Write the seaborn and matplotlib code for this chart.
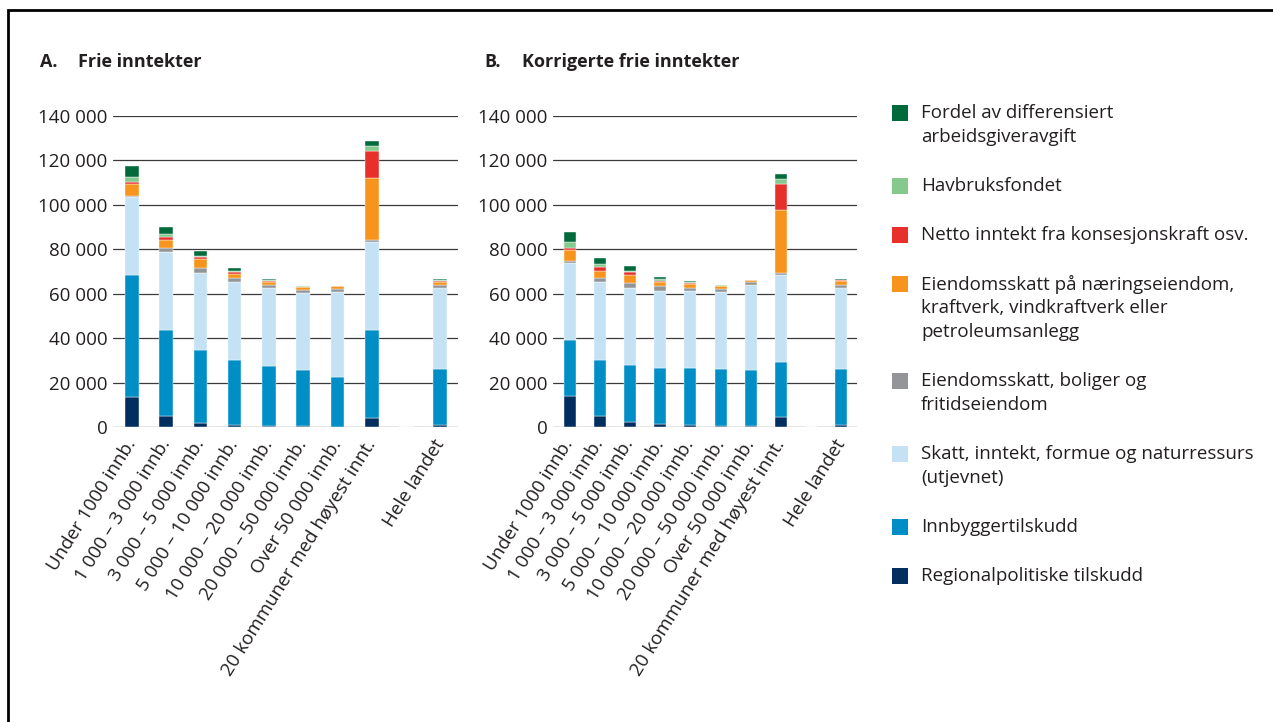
import matplotlib
matplotlib.use("Agg")
import matplotlib.pyplot as plt
from matplotlib.patches import Rectangle
from matplotlib.ticker import FuncFormatter
import seaborn as sns
import pandas as pd

sns.set_theme(style="white")
plt.rcParams["font.family"] = ["Open Sans", "DejaVu Sans"]

# kategorier og posisjoner (tomt felt før "Hele landet")
categories = [
    "Under 1000 innb.",
    "1 000 – 3 000 innb.",
    "3 000 – 5 000 innb.",
    "5 000 – 10 000 innb.",
    "10 000 – 20 000 innb.",
    "20 000 – 50 000 innb.",
    "Over 50 000 innb.",
    "20 kommuner med høyest innt.",
    "Hele landet",
]
positions = [0, 1, 2, 3, 4, 5, 6, 7, 9]

series = [
    "Fordel av differensiert\narbeidsgiveravgift",
    "Havbruksfondet",
    "Netto inntekt fra konsesjonskraft osv.",
    "Eiendomsskatt på næringseiendom,\nkraftverk, vindkraftverk eller\npetroleumsanlegg",
    "Eiendomsskatt, boliger og\nfritidseiendom",
    "Skatt, inntekt, formue og naturressurs\n(utjevnet)",
    "Innbyggertilskudd",
    "Regionalpolitiske tilskudd",
]
colors = ["#006a3b", "#86c98e", "#e8302a", "#f7941d", "#939598",
          "#c4e2f4", "#008ec6", "#002f5f"]

# A. Frie inntekter (kr per innbygger)
fordel_a = [4800, 3000, 2100, 1350, 600, 150, 50, 2250, 300]
havbruk_a = [2250, 1350, 600, 450, 300, 300, 100, 2100, 450]
konsesjon_a = [750, 1500, 1050, 600, 600, 150, 50, 12150, 450]
naering_a = [5400, 3450, 3750, 1800, 1500, 1200, 1100, 28050, 1500]
bolig_a = [600, 1800, 2400, 2100, 1200, 1200, 1350, 900, 1200]
skatt_a = [35250, 34950, 34800, 35100, 35100, 34800, 38250, 39600, 36250]
innbygger_a = [54750, 38850, 32550, 29100, 27000, 25350, 22500, 39300, 25400]
regional_a = [13500, 4950, 1950, 900, 450, 300, 150, 4200, 900]

# B. Korrigerte frie inntekter
fordel_b = [4500, 3000, 2100, 1050, 600, 150, 50, 2400, 300]
havbruk_b = [2550, 1350, 450, 600, 300, 300, 50, 2100, 300]
konsesjon_b = [750, 1650, 1500, 450, 450, 150, 50, 12000, 450]
naering_b = [5100, 3150, 3600, 1950, 1800, 1200, 900, 28050, 1800]
bolig_b = [900, 1800, 2100, 2100, 1200, 1350, 1200, 900, 1200]
skatt_b = [34800, 34950, 34650, 34950, 34800, 34800, 38250, 39150, 36300]
innbygger_b = [24900, 25200, 25650, 25200, 25650, 25650, 25350, 24900, 25500]
regional_b = [14100, 5100, 2250, 1200, 900, 300, 300, 4500, 750]

values_a = [fordel_a, havbruk_a, konsesjon_a, naering_a, bolig_a,
            skatt_a, innbygger_a, regional_a]
values_b = [fordel_b, havbruk_b, konsesjon_b, naering_b, bolig_b,
            skatt_b, innbygger_b, regional_b]


def long_frame(values):
    rows = []
    for name, vals in zip(series, values):
        for pos, v in zip(positions, vals):
            rows.append({"pos": pos, "serie": name, "verdi": v})
    return pd.DataFrame(rows)


fig = plt.figure(figsize=(12.73, 7.22), dpi=100)
W, H = 1273, 722
TXT = "#231f20"


def px_axes(x0, x1, y0, y1):
    return fig.add_axes([x0 / W, 1 - y1 / H, (x1 - x0) / W, (y1 - y0) / H])


ax_a = px_axes(113, 458, 116, 427)
ax_b = px_axes(553, 857, 116, 427)

fmt = FuncFormatter(lambda v, p: f"{v:,.0f}".replace(",", " "))

for ax, values in [(ax_a, values_a), (ax_b, values_b)]:
    sns.histplot(
        data=long_frame(values), x="pos", weights="verdi", hue="serie",
        hue_order=series, palette=dict(zip(series, colors)),
        multiple="stack", discrete=True, shrink=0.4, alpha=1,
        edgecolor="white", linewidth=0.3, legend=False, ax=ax,
    )
    ax.set_ylim(0, 140000)
    ax.set_xlim(-0.55, 9.52)
    ax.set_yticks(range(0, 140001, 20000))
    ax.yaxis.set_major_formatter(fmt)
    ax.yaxis.grid(True, color="#3a3a3a", linewidth=0.9)
    ax.set_axisbelow(True)
    for s in ax.spines.values():
        s.set_visible(False)
    ax.set_xticks(positions)
    ax.set_xticklabels(categories, rotation=58, ha="right", va="center",
                       rotation_mode="anchor", fontsize=13.5, color=TXT)
    ax.tick_params(axis="y", length=0, pad=4, labelsize=13.5, labelcolor=TXT)
    ax.tick_params(axis="x", length=0, pad=10)
    ax.set_xlabel("")
    ax.set_ylabel("")

# titler
for x, s in [(40, "A."), (78, "Frie inntekter"), (484, "B."),
             (522, "Korrigerte frie inntekter")]:
    fig.text(x / W, 1 - 62 / H, s, fontsize=13, fontweight="bold",
             va="center", color=TXT)

# legende
y = 113
for name, col in zip(series, colors):
    fig.patches.append(Rectangle((892 / W, 1 - (y + 8) / H), 16 / W, 16 / H,
                                 transform=fig.transFigure, facecolor=col,
                                 edgecolor="none"))
    lines = name.split("\n")
    for i, line in enumerate(lines):
        fig.text(921 / W, 1 - (y + 24 * i) / H, line, fontsize=13.5,
                 va="center", color=TXT)
    y += 24 * (len(lines) - 1) + 49

# ramme
fig.patches.append(Rectangle((8 / W, -0.1), 1.2, 1.1 - 10 / H,
                             transform=fig.transFigure, fill=False,
                             edgecolor="black", linewidth=2))

fig.savefig("out.png", dpi=100)
